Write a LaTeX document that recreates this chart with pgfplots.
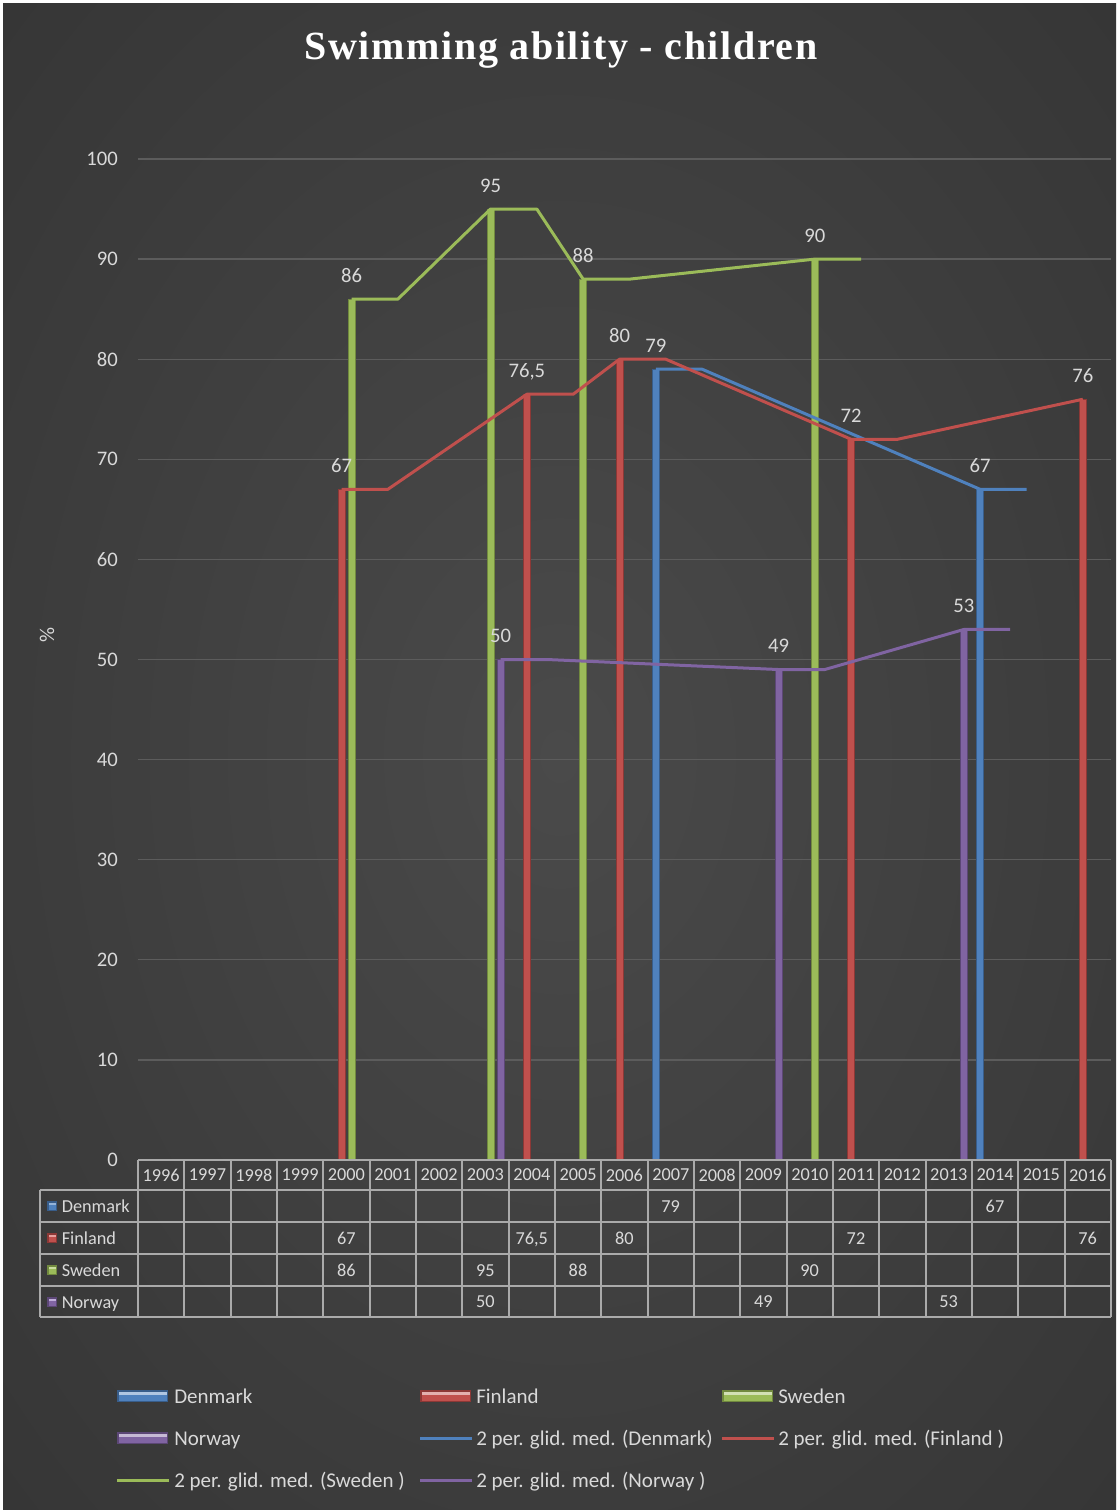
\documentclass[border=0pt]{standalone}
\usepackage{pgfplots}
\pgfplotsset{compat=1.18}
\usepackage{fontspec}
\setmainfont{Carlito}
\newfontfamily\titlefont[LetterSpace=4]{Liberation Serif}
\definecolor{dk}{HTML}{4F81BD}\definecolor{dkl}{HTML}{95B3D7}\definecolor{dkd}{HTML}{385D8A}
\definecolor{fi}{HTML}{C0504D}\definecolor{fil}{HTML}{E6A09E}\definecolor{fid}{HTML}{8C3836}
\definecolor{sw}{HTML}{9BBB59}\definecolor{swl}{HTML}{C9DC9F}\definecolor{swd}{HTML}{71893F}
\definecolor{no}{HTML}{8064A2}\definecolor{nol}{HTML}{C0ADDB}\definecolor{nod}{HTML}{5C4776}
\definecolor{lbl}{HTML}{D9D9D9}
\definecolor{gridc}{RGB}{92,92,92}
\definecolor{tabc}{RGB}{170,170,170}
\definecolor{bgin}{RGB}{74,74,74}
\definecolor{bgout}{RGB}{33,33,33}
\pgfdeclareradialshading{bgshade}{\pgfpoint{0bp}{0bp}}{color(0bp)=(bgin); color(72bp)=(bgout)}
\newcommand\lblfont{\fontsize{15.5}{18}\selectfont}
\newcommand\tabfont{\fontsize{13.7}{16}\selectfont}
\newcommand\legfont{\fontsize{15.75}{18}\selectfont}
\newcommand\legbar[4]{%
  \fill[#4] (#1,#2-6) rectangle (#1+51,#2+6);
  \fill[#3] (#1+1.5,#2-1) rectangle (#1+49.5,#2+4.5);
  \fill[#3!45!white] (#1+1.5,#2-4.5) rectangle (#1+49.5,#2-1);}
\begin{document}
\begin{tikzpicture}
\begin{scope}[x=0.75pt,y=-0.75pt]
\fill[white] (0,0) rectangle (1119,1511);
\shade[shading=bgshade] (3,3) rectangle (1116,1509);
\end{scope}
\begin{axis}[
  at={(103.5pt,-870pt)}, anchor=south west,
  scale only axis, width=729.75pt, height=750.75pt,
  xmin=1995.5, xmax=2016.5, ymin=0, ymax=100,
  ytick={0,10,...,100}, xtick={1996,...,2016},
  ymajorgrids, grid style={gridc, line width=1pt},
  axis line style={draw=none}, major tick length=0pt, tick style={draw=none},
  /pgf/number format/assume math mode=true,
  /pgf/number format/use comma,
  /pgf/number format/1000 sep={},
  yticklabel style={font=\lblfont, text=lbl, anchor=east, inner sep=0pt, xshift=-15pt},
  xticklabel style={font=\tabfont, text=lbl, anchor=center, inner sep=0pt, yshift=-11.25pt},
  ylabel={\%}, ylabel style={font=\legfont, text=lbl, at={(axis description cs:-0.0935,0.5245)}, anchor=center},
  clip=false,
  every node near coord/.append style={font=\lblfont, text=lbl, anchor=base, yshift=12.75pt, inner sep=0pt},
]
% bars
\addplot[ybar, bar width=5.25pt, bar shift=-11.25pt, fill=dk, draw=dkd, line width=0.6pt, nodes near coords,
  every node near coord/.append style={xshift=-11.25pt}]
  coordinates {(2007,79) (2014,67)};
\addplot[ybar, bar width=5.25pt, bar shift=-3.75pt, fill=fi, draw=fid, line width=0.6pt, nodes near coords,
  every node near coord/.append style={xshift=-3.75pt}]
  coordinates {(2000,67) (2004,76.5) (2006,80) (2011,72) (2016,76)};
\addplot[ybar, bar width=5.25pt, bar shift=3.75pt, fill=sw, draw=swd, line width=0.6pt, nodes near coords,
  every node near coord/.append style={xshift=3.75pt}]
  coordinates {(2000,86) (2003,95) (2005,88) (2010,90)};
\addplot[ybar, bar width=5.25pt, bar shift=11.25pt, fill=no, draw=nod, line width=0.6pt, nodes near coords,
  every node near coord/.append style={xshift=11.25pt}]
  coordinates {(2003,50) (2009,49) (2013,53)};
% moving averages
\addplot[sharp plot, no markers, dk, line width=2.25pt, line join=round, xshift=-11.25pt]
  coordinates {(2007,79) (2008,79) (2014,67) (2015,67)};
\addplot[sharp plot, no markers, fi, line width=2.25pt, line join=round, xshift=-3.75pt]
  coordinates {(2000,67) (2001,67) (2004,76.5) (2005,76.5) (2006,80) (2007,80) (2011,72) (2012,72) (2016,76)};
\addplot[sharp plot, no markers, sw, line width=2.25pt, line join=round, xshift=3.75pt]
  coordinates {(2000,86) (2001,86) (2003,95) (2004,95) (2005,88) (2006,88) (2010,90) (2011,90)};
\addplot[sharp plot, no markers, no, line width=2.25pt, line join=round, xshift=11.25pt]
  coordinates {(2003,50) (2004,50) (2009,49) (2010,49) (2013,53) (2014,53)};
\end{axis}
\begin{scope}[x=0.75pt,y=-0.75pt]
% title
\node[font=\titlefont\bfseries\fontsize{30}{34}\selectfont, text=white, inner sep=0pt] at (561,50) {Swimming ability - children};
% data table
\draw[tabc, line width=1.5pt] (138,1160) -- (1111,1160);
\foreach \yy in {1190,1222,1254,1286,1317} \draw[tabc, line width=1.5pt] (40,\yy) -- (1111,\yy);
\draw[tabc, line width=1.5pt] (40,1190) -- (40,1317);
\foreach \k in {0,...,21} \draw[tabc, line width=1.5pt] ({138+\k*46.333},1160) -- ({138+\k*46.333},1317);
% row headers
\foreach \yy/\nm/\b/\l/\d in {1206/Denmark/dk/dkl/dkd, 1238/Finland/fi/fil/fid, 1270/Sweden/sw/swl/swd, 1302/Norway/no/nol/nod}{
  \fill[\d] (47,\yy-5) rectangle (57,\yy+5);
  \fill[\b] (48.5,\yy-3) rectangle (55.5,\yy+4);
  \fill[\l] (48.5,\yy-3.5) rectangle (55.5,\yy-1.5);
  \node[font=\tabfont, text=lbl, anchor=base west, inner sep=0pt] at (61.5,\yy+6) {\nm};
}
% values
\foreach \yr/\v in {2007/79, 2014/67}
  \node[font=\tabfont, text=lbl, anchor=base, inner sep=0pt] at ({161+(\yr-1996)*46.333},1212) {\v};
\foreach \yr/\v in {2000/67, 2004/{76,5}, 2006/80, 2011/72, 2016/76}
  \node[font=\tabfont, text=lbl, anchor=base, inner sep=0pt] at ({161+(\yr-1996)*46.333},1244) {\v};
\foreach \yr/\v in {2000/86, 2003/95, 2005/88, 2010/90}
  \node[font=\tabfont, text=lbl, anchor=base, inner sep=0pt] at ({161+(\yr-1996)*46.333},1276) {\v};
\foreach \yr/\v in {2003/50, 2009/49, 2013/53}
  \node[font=\tabfont, text=lbl, anchor=base, inner sep=0pt] at ({161+(\yr-1996)*46.333},1307.5) {\v};
% legend
\legbar{117}{1396}{dk}{dkd}
\legbar{420}{1396}{fi}{fid}
\legbar{722}{1396}{sw}{swd}
\legbar{117}{1438}{no}{nod}
\draw[dk, line width=2.25pt] (420,1438) -- (472,1438);
\draw[fi, line width=2.25pt] (722,1438) -- (774,1438);
\draw[sw, line width=2.25pt] (117,1480) -- (169,1480);
\draw[no, line width=2.25pt] (420,1480) -- (472,1480);
\node[font=\legfont, text=lbl, anchor=base west, inner sep=0pt] at (174,1403) {Denmark};
\node[font=\legfont, text=lbl, anchor=base west, inner sep=0pt] at (476,1403) {Finland};
\node[font=\legfont, text=lbl, anchor=base west, inner sep=0pt] at (778,1403) {Sweden};
\node[font=\legfont, text=lbl, anchor=base west, inner sep=0pt] at (174,1445) {Norway};
\node[font=\legfont, text=lbl, anchor=base west, inner sep=0pt] at (476,1445) {2 per. glid. med. (Denmark)};
\node[font=\legfont, text=lbl, anchor=base west, inner sep=0pt] at (778,1445) {2 per. glid. med. (Finland )};
\node[font=\legfont, text=lbl, anchor=base west, inner sep=0pt] at (174,1487) {2 per. glid. med. (Sweden )};
\node[font=\legfont, text=lbl, anchor=base west, inner sep=0pt] at (476,1487) {2 per. glid. med. (Norway )};
\end{scope}
\end{tikzpicture}
\end{document}
